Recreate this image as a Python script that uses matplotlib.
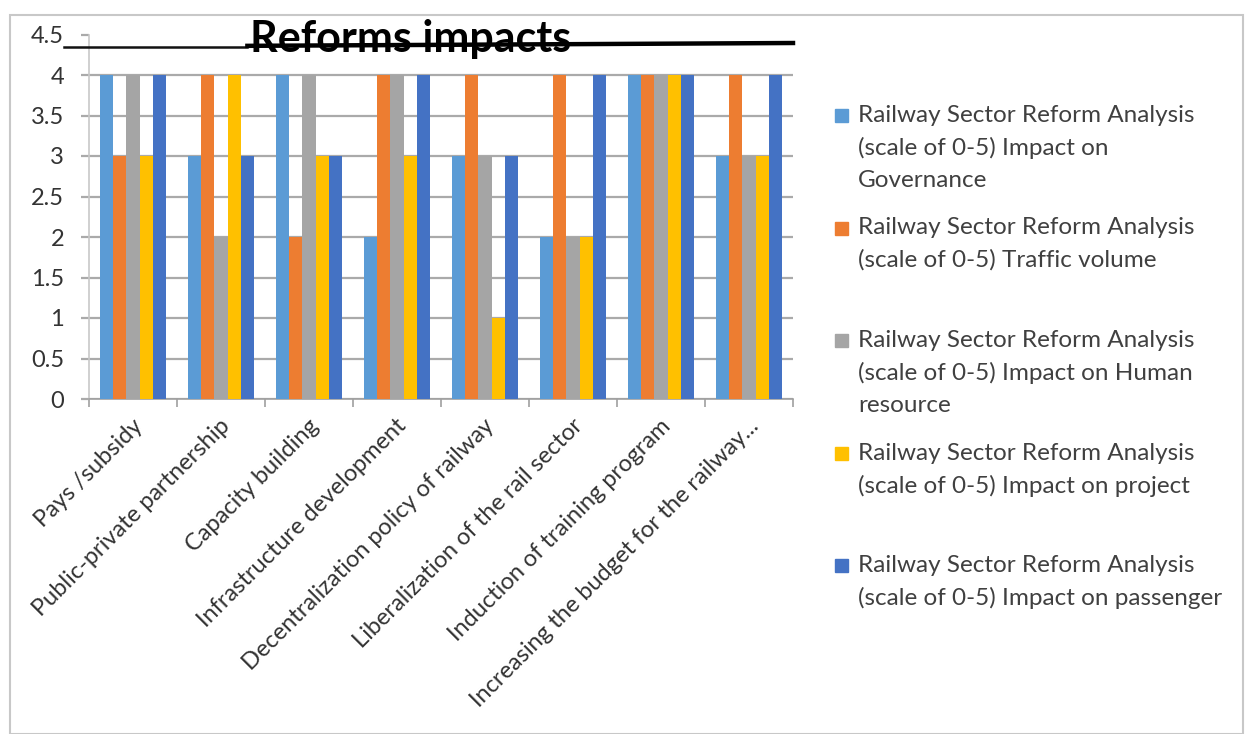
import numpy as np
import matplotlib.pyplot as plt
from matplotlib.patches import Rectangle
import matplotlib.transforms as mtrans

# categories (x axis)
categories = ['Pays /subsidy', 'Public-private partnership', 'Capacity building',
              'Infrastructure development', 'Decentralization policy of railway',
              'Liberalization of the rail sector', 'Induction of training program',
              'Increasing the budget for the railway...']

# series values (scale of 0-5)
governance = [4, 3, 4, 2, 3, 2, 4, 3]
traffic    = [3, 4, 2, 4, 4, 4, 4, 4]
human      = [4, 2, 4, 4, 3, 2, 4, 3]
project    = [3, 4, 3, 3, 1, 2, 4, 3]
passenger  = [4, 3, 3, 4, 3, 4, 4, 4]

series_labels = ['Railway Sector Reform Analysis\n(scale of 0-5) Impact on\nGovernance',
                 'Railway Sector Reform Analysis\n(scale of 0-5) Traffic volume',
                 'Railway Sector Reform Analysis\n(scale of 0-5) Impact on Human\nresource',
                 'Railway Sector Reform Analysis\n(scale of 0-5) Impact on project',
                 'Railway Sector Reform Analysis\n(scale of 0-5) Impact on passenger']
colors = ['#5B9BD5', '#ED7D31', '#A5A5A5', '#FFC000', '#4472C4']
yticks = np.arange(0, 4.51, 0.5)
ytick_labels = ['0', '0.5', '1', '1.5', '2', '2.5', '3', '3.5', '4', '4.5']

plt.rcParams['font.family'] = ['Lato', 'DejaVu Sans']

W, H = 1249, 734
fig = plt.figure(figsize=(W / 100, H / 100), dpi=100)
ax = fig.add_axes([89 / W, 1 - 399 / H, (793 - 89) / W, (399 - 34.5) / H])

data = [governance, traffic, human, project, passenger]
x = np.arange(len(categories))
bw = 0.152
for i, vals in enumerate(data):
    ax.bar(x + (i - 2) * bw, vals, width=bw, color=colors[i], zorder=3)

ax.set_xlim(-0.5, len(categories) - 0.5)
ax.set_ylim(0, 4.5)
ax.set_yticks(yticks)
ax.set_yticklabels(ytick_labels, fontsize=17, color='#333333')
ax.yaxis.grid(True, color='#aaaaaa', lw=1.6, zorder=0)
ax.get_ygridlines()[-1].set_visible(False)
ax.tick_params(axis='y', length=6, color='#aaaaaa', width=1.6, pad=12)

ax.set_xticks(x)
ax.set_xticklabels(categories, rotation=45, ha='right', va='center',
                   rotation_mode='anchor', fontsize=17, color='#333333')
ax.tick_params(axis='x', which='major', length=0, pad=17)
shift = mtrans.ScaledTranslation(6 / 100, 0, fig.dpi_scale_trans)
for lab in ax.get_xticklabels():
    lab.set_transform(lab.get_transform() + shift)
ax.set_xticks(np.arange(-0.5, len(categories)), minor=True)
ax.tick_params(axis='x', which='minor', length=6, color='#a0a0a0', width=1.2)

for s in ['top', 'right']:
    ax.spines[s].set_visible(False)
ax.spines['left'].set_color('#c8c8c8')
ax.spines['left'].set_linewidth(1.2)
ax.spines['bottom'].set_color('#a0a0a0')
ax.spines['bottom'].set_linewidth(1.2)

# title with the strike line through it
ytr = ax.get_yaxis_transform()
ax.plot([-0.035, 0.225], [4.34, 4.34], color='#111111', lw=1.8,
        transform=ytr, clip_on=False, zorder=5)
ax.plot([0.225, 1.0], [4.36, 4.395], color='black', lw=3.2,
        transform=ytr, clip_on=False, zorder=5)
fig.text(411 / W, 1 - 39 / H, 'Reforms impacts', fontsize=31, fontweight='bold',
         ha='center', va='center', zorder=6)

# legend
for i, lab in enumerate(series_labels):
    ytop = 115 + i * 112.5
    fig.add_artist(Rectangle((835 / W, 1 - (ytop + 7) / H), 13 / W, 13 / H,
                             transform=fig.transFigure, color=colors[i]))
    fig.text(858 / W, 1 - (ytop - 10) / H, lab, fontsize=17.5, color='#404040',
             va='top', ha='left', linespacing=1.62)

# outer border
fig.add_artist(Rectangle((10 / W, 0.0), (1243 - 10) / W, 1 - 15 / H,
                         transform=fig.transFigure, fill=False, ec='#c8c8c8', lw=1.5))

fig.savefig('out.png', dpi=100)
